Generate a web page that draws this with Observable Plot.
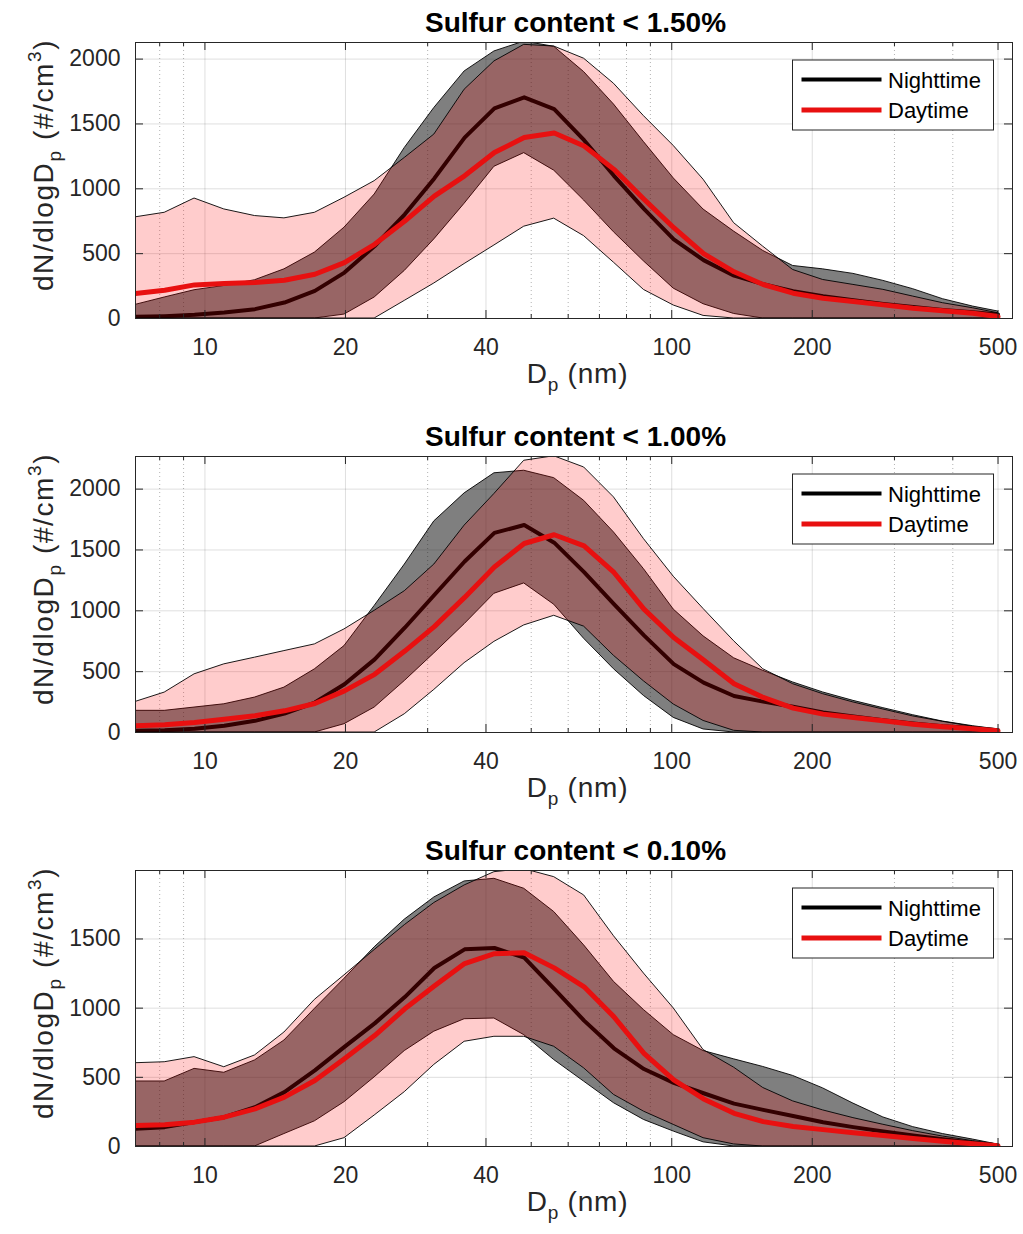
<!DOCTYPE html>
<html><head><meta charset="utf-8">
<script src="https://cdn.jsdelivr.net/npm/d3@7"></script>
<script src="https://cdn.jsdelivr.net/npm/@observablehq/plot@0.6"></script>
<style>
html,body{margin:0;padding:0;background:#fff;overflow:hidden;}
#chart svg{display:block;}
</style></head>
<body><div id="chart"></div>
<script>
// ---- data ----
const diameters = [7.1, 8.2, 9.5, 11, 12.8, 14.8, 17.2, 19.9, 23.1, 26.8, 31, 36, 41.7, 48.3, 56, 64.9, 75.2, 87.2, 101, 117, 136, 157, 182, 211, 245, 284, 329, 381, 442, 500];

const titles = ["Sulfur content < 1.50%", "Sulfur content < 1.00%", "Sulfur content < 0.10%"];
const seriesLabels = ["Nighttime", "Daytime"];
const xMajorTicks = [10, 20, 40, 100, 200, 500];
const xMinorTicks = [8, 9, 30, 50, 60, 70, 80, 90, 300, 400];
const yTicksWide = [0, 500, 1000, 1500, 2000];
const yTicksNarrow = [0, 500, 1000, 1500];
const yMax = [2128, 2268, 1995];

// Panel 1: Sulfur < 1.50%
const p1NightMean = [13, 18, 28, 46, 72, 123, 213, 354, 559, 803, 1080, 1395, 1620, 1705, 1615, 1375, 1100, 845, 610, 450, 330, 265, 210, 172, 140, 112, 88, 66, 48, 30];
const p1NightLo   = [0, 0, 0, 0, 0, 0, 0, 30, 162, 367, 610, 885, 1170, 1275, 1140, 910, 665, 440, 230, 110, 35, 0, 0, 0, 0, 0, 0, 0, 0, 0];
const p1NightHi   = [105, 162, 218, 251, 295, 379, 508, 700, 956, 1315, 1623, 1905, 2059, 2135, 2095, 1900, 1650, 1360, 1080, 840, 670, 521, 405, 379, 344, 290, 226, 149, 92, 54];
const p1DayMean   = [192, 218, 259, 269, 277, 295, 341, 431, 572, 751, 944, 1100, 1280, 1395, 1430, 1330, 1150, 920, 700, 500, 360, 262, 195, 156, 131, 105, 79, 59, 41, 15];
const p1DayLo     = [0, 0, 0, 0, 0, 0, 0, 0, 0, 136, 270, 420, 563, 708, 770, 635, 430, 220, 100, 20, 0, 0, 0, 0, 0, 0, 0, 0, 0, 0];
const p1DayHi     = [780, 815, 925, 841, 790, 772, 815, 931, 1059, 1238, 1418, 1764, 1982, 2110, 2097, 2003, 1810, 1560, 1330, 1070, 735, 554, 374, 297, 259, 221, 169, 118, 79, 41];

// Panel 2: Sulfur < 1.00%
const p2NightMean = [14, 19, 30, 55, 96, 156, 246, 396, 601, 861, 1130, 1405, 1640, 1705, 1560, 1318, 1055, 798, 562, 410, 300, 254, 211, 164, 132, 101, 74, 52, 36, 19];
const p2NightLo   = [0, 0, 0, 0, 0, 0, 0, 68, 205, 423, 650, 890, 1140, 1225, 1050, 770, 520, 300, 120, 25, 0, 0, 0, 0, 0, 0, 0, 0, 0, 0];
const p2NightHi   = [178, 178, 205, 232, 287, 369, 519, 710, 1040, 1380, 1735, 1965, 2130, 2151, 2090, 1904, 1644, 1342, 1010, 790, 610, 507, 411, 329, 260, 200, 142, 90, 52, 25];
const p2DayMean   = [55, 63, 82, 109, 137, 178, 238, 342, 478, 669, 870, 1110, 1360, 1553, 1625, 1534, 1315, 1014, 781, 595, 400, 288, 200, 151, 123, 96, 68, 47, 30, 14];
const p2DayLo     = [0, 0, 0, 0, 0, 0, 0, 0, 0, 150, 350, 570, 745, 880, 959, 870, 630, 420, 230, 95, 14, 0, 0, 0, 0, 0, 0, 0, 0, 0];
const p2DayHi     = [251, 328, 478, 560, 615, 669, 724, 847, 1000, 1161, 1380, 1700, 1960, 2233, 2270, 2178, 1932, 1589, 1280, 1015, 750, 520, 397, 315, 247, 189, 132, 88, 47, 14];

// Panel 3: Sulfur < 0.10%
const p3NightMean = [128, 140, 176, 212, 284, 393, 550, 720, 890, 1080, 1290, 1425, 1435, 1365, 1140, 910, 710, 560, 460, 385, 310, 265, 220, 175, 140, 108, 80, 52, 28, 8];
const p3NightLo   = [0, 0, 0, 0, 0, 90, 182, 320, 500, 690, 830, 920, 925, 805, 625, 469, 313, 192, 108, 30, 0, 0, 0, 0, 0, 0, 0, 0, 0, 0];
const p3NightHi   = [470, 470, 561, 533, 622, 766, 995, 1212, 1440, 1640, 1800, 1916, 1935, 1863, 1695, 1454, 1190, 986, 805, 690, 630, 575, 510, 420, 310, 210, 140, 90, 50, 14];
const p3DayMean   = [152, 157, 176, 212, 272, 357, 477, 634, 802, 995, 1160, 1322, 1394, 1401, 1291, 1154, 937, 673, 481, 344, 240, 180, 145, 122, 100, 80, 58, 38, 20, 5];
const p3DayLo     = [0, 0, 0, 0, 0, 0, 0, 60, 224, 393, 590, 757, 793, 793, 721, 565, 373, 252, 156, 60, 15, 0, 0, 0, 0, 0, 0, 0, 0, 0];
const p3DayHi     = [602, 609, 646, 573, 658, 824, 1060, 1237, 1420, 1600, 1760, 1887, 1983, 2005, 1947, 1815, 1520, 1250, 998, 697, 570, 423, 326, 261, 205, 157, 111, 72, 39, 14];

// ---- layout / style ----
const W = 1023, ML = 135, MR = 11, MT = 42, PH = 276;
const PW = W - ML - MR;
const panelHeights = [414, 414, 406];
const FONT = "'Liberation Sans', Arial, Helvetica, sans-serif";
const AX = "#262626";
const NIGHT = "#000000", DAY = "#e81010";

const panels = [
  {nm: p1NightMean, nl: p1NightLo, nh: p1NightHi, dm: p1DayMean, dl: p1DayLo, dh: p1DayHi, yt: yTicksWide},
  {nm: p2NightMean, nl: p2NightLo, nh: p2NightHi, dm: p2DayMean, dl: p2DayLo, dh: p2DayHi, yt: yTicksWide},
  {nm: p3NightMean, nl: p3NightLo, nh: p3NightHi, dm: p3DayMean, dl: p3DayLo, dh: p3DayHi, yt: yTicksNarrow}
];

function makePanel(i) {
  const p = panels[i];
  const rows = diameters.map((D, j) => ({
    D, nMean: p.nm[j], nLo: p.nl[j], nHi: p.nh[j], dMean: p.dm[j], dLo: p.dl[j], dHi: p.dh[j]
  }));
  const H = panelHeights[i];
  const MB = H - MT - PH;
  const svg = Plot.plot({
    width: W, height: H,
    marginLeft: ML, marginRight: MR, marginTop: MT, marginBottom: MB,
    style: {fontFamily: FONT, fontSize: "23px", color: AX, background: "#fff", overflow: "visible"},
    x: {type: "log", domain: [7.1, 537]},
    y: {domain: [0, yMax[i]]},
    marks: [
      Plot.ruleX(xMinorTicks, {stroke: AX, strokeOpacity: 0.35, strokeDasharray: "1,3"}),
      Plot.ruleX(xMajorTicks, {stroke: AX, strokeOpacity: 0.15}),
      Plot.ruleY(p.yt, {stroke: AX, strokeOpacity: 0.15}),
      Plot.areaY(rows, {x: "D", y1: "nLo", y2: "nHi", fill: NIGHT, fillOpacity: 0.5, stroke: "#000", strokeWidth: 0.9, clip: true}),
      Plot.lineY(rows, {x: "D", y: "nMean", stroke: NIGHT, strokeWidth: 4, clip: true}),
      Plot.areaY(rows, {x: "D", y1: "dLo", y2: "dHi", fill: "#ff0000", fillOpacity: 0.2, stroke: "#000", strokeWidth: 0.9, clip: true}),
      Plot.lineY(rows, {x: "D", y: "dMean", stroke: DAY, strokeWidth: 5, clip: true}),
      Plot.ruleX(xMajorTicks, {stroke: AX, insetTop: PH - 8}),
      Plot.ruleX(xMajorTicks, {stroke: AX, insetBottom: PH - 8}),
      Plot.ruleX(xMinorTicks, {stroke: AX, insetTop: PH - 4}),
      Plot.ruleX(xMinorTicks, {stroke: AX, insetBottom: PH - 4}),
      Plot.ruleY(p.yt, {stroke: AX, insetRight: PW - 8}),
      Plot.ruleY(p.yt, {stroke: AX, insetLeft: PW - 8}),
      Plot.axisX(xMajorTicks, {anchor: "bottom", tickSize: 0, tickPadding: 20, tickFormat: d => String(d), label: null, fontSize: 23}),
      Plot.axisY(p.yt, {anchor: "left", tickSize: 0, tickPadding: 15, tickFormat: d => String(d), label: null, fontSize: 23}),
      Plot.frame({stroke: AX})
    ]
  });

  const s = d3.select(svg);
  const cx = ML + PW / 2;
  // title
  s.append("text").attr("x", cx + 2).attr("y", MT - 10).attr("text-anchor", "middle")
    .attr("font-family", FONT).attr("font-size", 28).attr("font-weight", "bold").attr("fill", "#000")
    .text(titles[i]);
  // x label
  const xl = s.append("text").attr("x", cx + 4).attr("y", MT + PH + 65).attr("text-anchor", "middle")
    .attr("font-family", FONT).attr("font-size", 28).attr("letter-spacing", 0.8).attr("fill", AX);
  xl.append("tspan").text("D");
  xl.append("tspan").attr("font-size", 19).attr("dy", 8).text("p");
  xl.append("tspan").attr("dy", -8).text("\u00a0(nm)");
  // y label
  const yl = s.append("text").attr("transform", `translate(53,${MT + 123}) rotate(-90)`).attr("text-anchor", "middle")
    .attr("font-family", FONT).attr("font-size", 28).attr("letter-spacing", 1.6).attr("fill", AX);
  yl.append("tspan").text("dN/dlogD");
  yl.append("tspan").attr("font-size", 19).attr("dy", 8).text("p");
  yl.append("tspan").attr("dy", -8).text("\u00a0(#/cm");
  yl.append("tspan").attr("font-size", 19).attr("dy", -12).text("3");
  yl.append("tspan").attr("dy", 12).text(")");
  // legend
  const lg = s.append("g").attr("font-family", FONT).attr("text-anchor", "start");
  const lx = 792.5, ly = MT + 18;
  lg.append("rect").attr("x", lx).attr("y", ly).attr("width", 201).attr("height", 70)
    .attr("fill", "#fff").attr("stroke", AX).attr("stroke-width", 1);
  const entries = [{label: seriesLabels[0], color: NIGHT, w: 4, dy: 19.5}, {label: seriesLabels[1], color: DAY, w: 5, dy: 50}];
  for (const e of entries) {
    lg.append("line").attr("x1", lx + 9).attr("x2", lx + 89).attr("y1", ly + e.dy).attr("y2", ly + e.dy)
      .attr("stroke", e.color).attr("stroke-width", e.w);
    lg.append("text").attr("x", lx + 95.5).attr("y", ly + e.dy + 8).attr("text-anchor", "start")
      .attr("font-size", 22).attr("fill", "#000").text(e.label);
  }
  return svg;
}

const root = document.getElementById("chart");
for (let i = 0; i < 3; i++) root.appendChild(makePanel(i));
</script>
</body></html>
